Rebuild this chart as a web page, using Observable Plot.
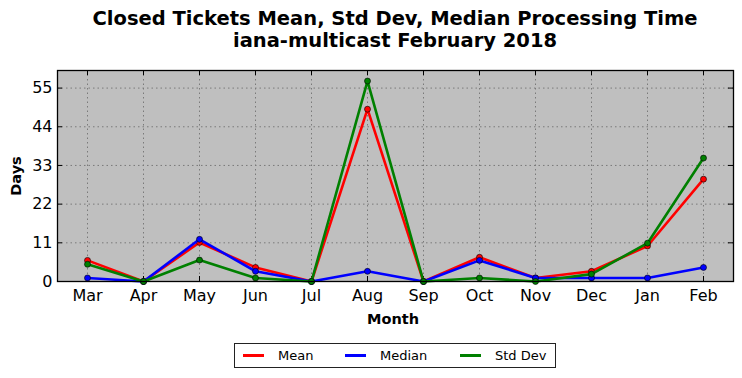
<!DOCTYPE html>
<html>
<head>
<meta charset="utf-8">
<script src="https://cdn.jsdelivr.net/npm/d3@7"></script>
<script src="https://cdn.jsdelivr.net/npm/@observablehq/plot@0.6"></script>
<style>
  html, body { margin: 0; padding: 0; background: #fff; }
  #wrap { position: relative; width: 742px; height: 378px; font-family: "DejaVu Sans", sans-serif; overflow: hidden; }
  #wrap svg { position: absolute; left: 0; top: 0; }
  .title { position: absolute; left: 24px; width: 742px; text-align: center; font-weight: bold; font-size: 19.5px; color: #000; line-height: 22px; white-space: nowrap; }
  .lab { position: absolute; font-weight: bold; font-size: 14.5px; color: #000; }
  #legend { position: absolute; left: 234px; top: 343px; width: 320px; height: 23px; border: 1px solid #222; background: #fff; font-size: 13px; }
  .li { position: absolute; top: 0; height: 23px; line-height: 23px; }
  .sw { position: absolute; top: 10px; width: 21px; height: 3px; }
</style>
</head>
<body>
<div id="wrap">
  <div class="title" style="top:8px">Closed Tickets Mean, Std Dev, Median Processing Time</div>
  <div class="title" style="top:30px">iana-multicast February 2018</div>
  <div class="lab" style="left:367px; top:311px">Month</div>
  <div class="lab" style="left:-4px; top:168px; transform: rotate(-90deg); transform-origin: center;">Days</div>
  <div id="legend"></div>
</div>
<script>
const months = ["Mar","Apr","May","Jun","Jul","Aug","Sep","Oct","Nov","Dec","Jan","Feb"];
const meanValues   = [6.0, 0, 11.1, 4.0, 0, 49.0, 0, 6.9, 1.0, 2.9, 10.1, 29.1];
const medianValues = [1.0, 0, 12.0, 2.9, 0, 2.9, 0, 6.0, 1.0, 1.0, 1.0, 4.0];
const stdValues    = [4.9, 0, 6.1, 1.0, 0, 57.0, 0, 1.0, 0, 2.1, 10.9, 35.1];
const seriesNames  = ["Mean", "Median", "Std Dev"];
const seriesColors = ["#ff0000", "#0000ff", "#008000"];
const yTicks = [0, 11, 22, 33, 44, 55];

const seriesValues = [meanValues, medianValues, stdValues];
const W = 742, H = 378, mT = 70, mB = 97, mL = 57, mR = 9;
const pw = W - mL - mR, ph = H - mT - mB;

const marks = [
  Plot.frame({fill: "#bfbfbf", stroke: null}),
  Plot.gridX(months, {stroke: "#7a7a7a", strokeOpacity: 1, strokeDasharray: "1.5,3", strokeWidth: 1}),
  Plot.gridY(yTicks, {stroke: "#7a7a7a", strokeOpacity: 1, strokeDasharray: "1.5,3", strokeWidth: 1}),
  Plot.ruleX(months, {x: d => d, insetTop: ph - 5, stroke: "#000"}),
  Plot.ruleX(months, {x: d => d, insetBottom: ph - 5, stroke: "#000"}),
  Plot.ruleY(yTicks, {y: d => d, insetRight: pw - 5, stroke: "#000"}),
  Plot.ruleY(yTicks, {y: d => d, insetLeft: pw - 5, stroke: "#000"})
];
seriesNames.forEach((name, i) => {
  const data = months.map((m, j) => ({month: m, value: seriesValues[i][j], series: name}));
  marks.push(Plot.line(data, {x: "month", y: "value", stroke: "series", strokeWidth: 2.6, strokeLinejoin: "miter"}));
  marks.push(Plot.dot(data, {x: "month", y: "value", fill: "series", stroke: "#000", strokeWidth: 0.6, r: 3}));
});
marks.push(Plot.frame({stroke: "#000", strokeWidth: 1.3, fill: null}));
marks.push(Plot.axisX({tickSize: 0, tickPadding: 8, fontSize: 16, label: null, fill: "#000"}));
marks.push(Plot.axisY(yTicks, {tickSize: 0, tickPadding: 5, fontSize: 16, label: null, fill: "#000"}));

const chart = Plot.plot({
  width: W, height: H,
  marginTop: mT, marginBottom: mB, marginLeft: mL, marginRight: mR,
  style: {fontFamily: "DejaVu Sans, sans-serif", background: "transparent", color: "#000"},
  x: {type: "point", domain: months, padding: 0.5},
  y: {domain: [0, 60]},
  color: {domain: seriesNames, range: seriesColors},
  marks
});
const wrap = document.getElementById("wrap");
wrap.insertBefore(chart, wrap.firstChild);

const legend = document.getElementById("legend");
const pos = [[8, 43], [110, 145], [225, 260]];
seriesNames.forEach((name, i) => {
  const sw = document.createElement("div");
  sw.className = "sw";
  sw.style.left = pos[i][0] + "px";
  sw.style.background = seriesColors[i];
  legend.appendChild(sw);
  const t = document.createElement("div");
  t.className = "li";
  t.style.left = pos[i][1] + "px";
  t.textContent = name;
  legend.appendChild(t);
});
</script>
</body>
</html>
